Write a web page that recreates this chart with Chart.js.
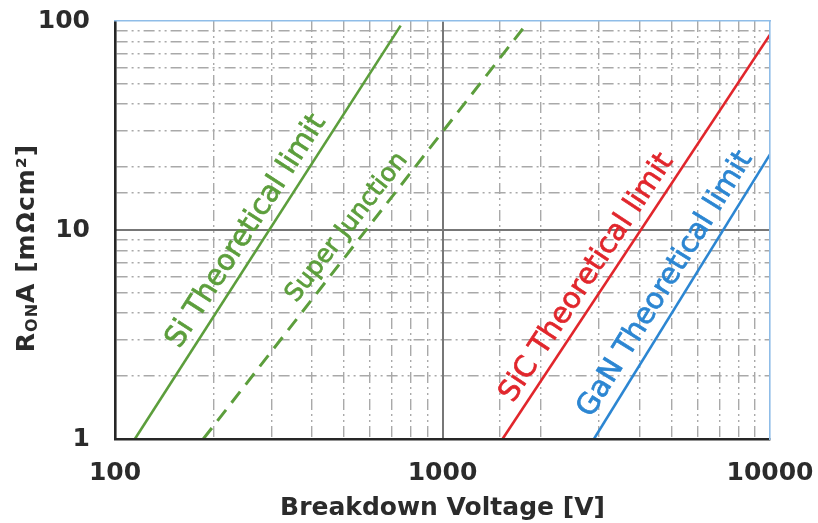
<!DOCTYPE html>
<html>
<head>
<meta charset="utf-8">
<script src="https://cdn.jsdelivr.net/npm/chart.js@4.4.1/dist/chart.umd.min.js"></script>
<style>
  html, body { margin: 0; padding: 0; background: #ffffff; }
  #wrap { width: 818px; height: 523px; }
</style>
</head>
<body>
<div id="wrap"><canvas id="chart" width="818" height="523"></canvas></div>
<script>
// Specific on-resistance (RON·A) against breakdown voltage, log-log.
// Each series is a straight line in log-log space: start and end points.
const siVoltage  = [115, 745];
const siRon      = [1, 95];
const sjVoltage  = [186, 1770];
const sjRon      = [1, 93];
const sicVoltage = [1525, 10000];
const sicRon     = [1, 86];
const ganVoltage = [2900, 10000];
const ganRon     = [1, 23];

const seriesNames = ['Si Theoretical limit', 'Super Junction', 'SiC Theoretical limit', 'GaN Theoretical limit'];

// Labelled ticks (decades)
const xTickLabels = [100, 1000, 10000];
const yTickLabels = [1, 10, 100];

// ---- styling ----
const GREEN = '#5c9e3c';
const RED   = '#e1262c';
const BLUE  = '#2c86d2';
const FRAME_BLUE = '#8fbde8';
const MINOR_GRID = '#a9a9a9';
const MAJOR_GRID = '#777777';
const AXIS_DARK  = '#262626';
const TEXT_DARK  = '#2b2b2b';
const MINOR_DASH = [11, 4, 2, 4, 2, 4];

const isDecade = v => Math.abs(Math.log10(v) - Math.round(Math.log10(v))) < 1e-9;
const toPoints = (xs, ys) => xs.map((x, i) => ({ x, y: ys[i] }));

// Where each in-plot label sits: voltage along its line, gap from the line, font
const labelStyle = [
  { at: 281,  gap: 11, size: 29, color: GREEN },
  { at: 560,  gap: 10, size: 25, color: GREEN },
  { at: 3076, gap: 11, size: 29, color: RED },
  { at: 5420, gap: 13, size: 29, color: BLUE }
];

// Rotated labels drawn alongside each line
const lineLabels = {
  id: 'lineLabels',
  afterDatasetsDraw(chart) {
    const ctx = chart.ctx;
    chart.data.datasets.forEach((ds, i) => {
      const st = labelStyle[i];
      const meta = chart.getDatasetMeta(i);
      const p0 = meta.data[0], p1 = meta.data[meta.data.length - 1];
      const ang = Math.atan2(p1.y - p0.y, p1.x - p0.x);
      const l0 = Math.log10(ds.data[0].x), l1 = Math.log10(ds.data[ds.data.length - 1].x);
      const t = (Math.log10(st.at) - l0) / (l1 - l0);
      const ax = p0.x + t * (p1.x - p0.x);
      const ay = p0.y + t * (p1.y - p0.y);
      ctx.save();
      ctx.beginPath();
      ctx.rect(chart.chartArea.left, chart.chartArea.top, chart.chartArea.width, chart.chartArea.height);
      ctx.clip();
      ctx.translate(ax, ay);
      ctx.rotate(ang);
      ctx.font = `${st.size}px "DejaVu Sans"`;
      ctx.fillStyle = st.color;
      ctx.strokeStyle = st.color;
      ctx.lineWidth = 0.7;
      ctx.textAlign = 'center';
      ctx.textBaseline = 'alphabetic';
      ctx.fillText(ds.label, 0, -st.gap);
      ctx.strokeText(ds.label, 0, -st.gap);
      ctx.restore();
    });
  }
};

// Vertical axis title with subscript "ON"
const yAxisTitle = {
  id: 'yAxisTitle',
  afterDraw(chart) {
    const ctx = chart.ctx;
    const area = chart.chartArea;
    const cx = area.left - 88;
    const cy = (area.top + area.bottom) / 2 + 18;
    const big = 'bold 25px "DejaVu Sans"';
    const small = 'bold 16px "DejaVu Sans"';
    const parts = [
      { text: 'R', font: big, dy: 0 },
      { text: 'ON', font: small, dy: 6 },
      { text: 'A [m\u03A9cm\u00B2]', font: big, dy: 0 }
    ];
    ctx.save();
    ctx.letterSpacing = '1px';
    let total = 0;
    parts.forEach(p => { ctx.font = p.font; p.w = ctx.measureText(p.text).width; total += p.w; });
    ctx.translate(cx, cy);
    ctx.rotate(-Math.PI / 2);
    ctx.fillStyle = TEXT_DARK;
    ctx.textBaseline = 'middle';
    ctx.textAlign = 'left';
    let x = -total / 2;
    parts.forEach(p => {
      ctx.font = p.font;
      ctx.fillText(p.text, x, p.dy);
      x += p.w;
    });
    ctx.restore();
  }
};

const tickFont = { family: 'DejaVu Sans', weight: 'bold', size: 25 };

// Fixed box sizes so the plot area spans a set frame; tick labels may overhang it
const fixHeight = h => s => { s.height = h; s.paddingLeft = 0; s.paddingRight = 0; };
const fixWidth  = w => s => { s.width = w; s.paddingTop = 0; s.paddingBottom = 0; };

new Chart(document.getElementById('chart'), {
  type: 'line',
  data: {
    datasets: [
      { label: seriesNames[0], data: toPoints(siVoltage, siRon), borderColor: GREEN, borderWidth: 2.6 },
      { label: seriesNames[1], data: toPoints(sjVoltage, sjRon), borderColor: GREEN, borderWidth: 3, borderDash: [14, 9] },
      { label: seriesNames[2], data: toPoints(sicVoltage, sicRon), borderColor: RED, borderWidth: 2.6 },
      { label: seriesNames[3], data: toPoints(ganVoltage, ganRon), borderColor: BLUE, borderWidth: 2.6 }
    ]
  },
  options: {
    responsive: false,
    devicePixelRatio: 1,
    animation: false,
    layout: { padding: 0, autoPadding: false },
    elements: { point: { radius: 0 }, line: { tension: 0, fill: false } },
    plugins: { legend: { display: false }, tooltip: { enabled: false } },
    scales: {
      x: {
        type: 'logarithmic', position: 'bottom', min: 100, max: 10000,
        afterFit: fixHeight(84),
        grid: {
          color: c => (c.tick && isDecade(c.tick.value)) ? 'rgba(0,0,0,0)' : MINOR_GRID,
          lineWidth: 1.4, drawTicks: false
        },
        border: { display: true, color: AXIS_DARK, width: 2.6, dash: MINOR_DASH, z: 1 },
        ticks: {
          autoSkip: false, maxRotation: 0, padding: 19, color: TEXT_DARK, font: tickFont,
          callback: v => xTickLabels.includes(v) ? String(v) : ''
        },
        title: {
          display: true, text: 'Breakdown Voltage [V]', color: TEXT_DARK,
          font: { family: 'DejaVu Sans', weight: 'bold', size: 25 }, padding: { top: 0, bottom: 0 }
        }
      },
      y: {
        type: 'logarithmic', position: 'left', min: 1, max: 100,
        afterFit: fixWidth(115),
        grid: {
          color: c => (c.tick && isDecade(c.tick.value)) ? 'rgba(0,0,0,0)' : MINOR_GRID,
          lineWidth: 1.4, drawTicks: false
        },
        border: { display: true, color: AXIS_DARK, width: 2.6, dash: MINOR_DASH, z: 1 },
        ticks: {
          autoSkip: false, padding: 25, color: TEXT_DARK, font: tickFont,
          callback: v => yTickLabels.includes(v) ? String(v) : ''
        }
      },
      x2: {
        type: 'logarithmic', position: 'top', min: 100, max: 10000,
        afterFit: fixHeight(21),
        afterBuildTicks: s => { s.ticks = s.ticks.filter(t => isDecade(t.value) && t.value > s.min && t.value < s.max); },
        grid: { color: MAJOR_GRID, lineWidth: 2, drawTicks: false },
        border: { display: true, color: FRAME_BLUE, width: 1.6, z: 1 },
        ticks: { display: false }
      },
      y2: {
        type: 'logarithmic', position: 'right', min: 1, max: 100,
        afterFit: fixWidth(48),
        afterBuildTicks: s => { s.ticks = s.ticks.filter(t => isDecade(t.value) && t.value > s.min && t.value < s.max); },
        grid: { color: MAJOR_GRID, lineWidth: 2, drawTicks: false },
        border: { display: true, color: FRAME_BLUE, width: 1.6, z: 1 },
        ticks: { display: false }
      }
    }
  },
  plugins: [lineLabels, yAxisTitle]
});
</script>
</body>
</html>
